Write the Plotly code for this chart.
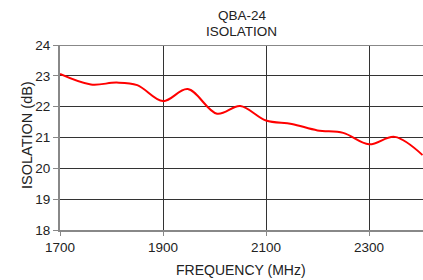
import plotly.graph_objects as go

freq = [1700, 1760, 1810, 1850, 1900, 1948, 2005, 2050, 2100, 2150, 2200, 2250, 2300, 2350, 2404]
isolation = [23.06, 22.72, 22.78, 22.70, 22.18, 22.57, 21.77, 22.02, 21.55, 21.44, 21.23, 21.15, 20.78, 21.02, 20.43]

x_ticks = [1700, 1900, 2100, 2300]
y_ticks = [18, 19, 20, 21, 22, 23, 24]
title_lines = ["QBA-24", "ISOLATION"]

W, H = 423, 280
L, R, T, B = 60, 0, 45, 50
PW, PH = W - L - R, H - T - B


def py(p):
    return (H - B - p) / PH


def px(p):
    return (p - L) / PW


fig = go.Figure()
fig.add_trace(go.Scatter(x=freq, y=isolation, mode="lines",
                         line=dict(color="#ff0000", width=2, shape="spline", smoothing=1.0),
                         hoverinfo="skip", showlegend=False, cliponaxis=True))

FAM = "Liberation Sans, Arial, sans-serif"
TXT = "#222222"

fig.update_layout(
    width=W, height=H,
    margin=dict(l=L, r=R, t=T, b=B, autoexpand=False),
    paper_bgcolor="white", plot_bgcolor="white",
    font=dict(family=FAM, size=13.5, color=TXT),
    xaxis=dict(range=[1700, 1700 + PW / 103 * 200], tickvals=x_ticks,
               automargin=False,
               showgrid=True, gridcolor="#333333", gridwidth=1,
               showline=True, linecolor="#888888", linewidth=2,
               ticks="outside", ticklen=4, tickcolor="#888888",
               zeroline=False, fixedrange=True,
               tickfont=dict(size=13.5, color=TXT)),
    yaxis=dict(range=[18, 24], tickvals=y_ticks,
               automargin=False,
               showgrid=True, gridcolor="#333333", gridwidth=1,
               showline=True, linecolor="#888888", linewidth=2,
               ticks="outside", ticklen=5, tickcolor="#888888",
               zeroline=False, fixedrange=True,
               tickfont=dict(size=13.5, color=TXT)),
    annotations=[
        dict(text=title_lines[0], xref="paper", yref="paper",
             x=px(242.5), y=py(15.5), xanchor="center", yanchor="middle",
             showarrow=False, font=dict(size=13.5, color=TXT)),
        dict(text=title_lines[1], xref="paper", yref="paper",
             x=px(241), y=py(31), xanchor="center", yanchor="middle",
             showarrow=False, font=dict(size=13.5, color=TXT)),
        dict(text="ISOLATION (dB)", xref="paper", yref="paper",
             x=px(27), y=py(135), xanchor="center", yanchor="middle",
             textangle=-90, showarrow=False, font=dict(size=14.5, color=TXT)),
        dict(text="FREQUENCY (MHz)", xref="paper", yref="paper",
             x=px(241), y=py(270),
             xanchor="center", yanchor="middle",
             showarrow=False, font=dict(size=14, color=TXT)),
    ],
)
fig.add_shape(type="line", xref="paper", yref="y", x0=0, x1=1, y0=24, y1=24,
              line=dict(color="#888888", width=2))

fig.write_html("out.html", config={"displayModeBar": False},
               post_script="document.body.style.margin='0';document.body.style.overflow='hidden';")
